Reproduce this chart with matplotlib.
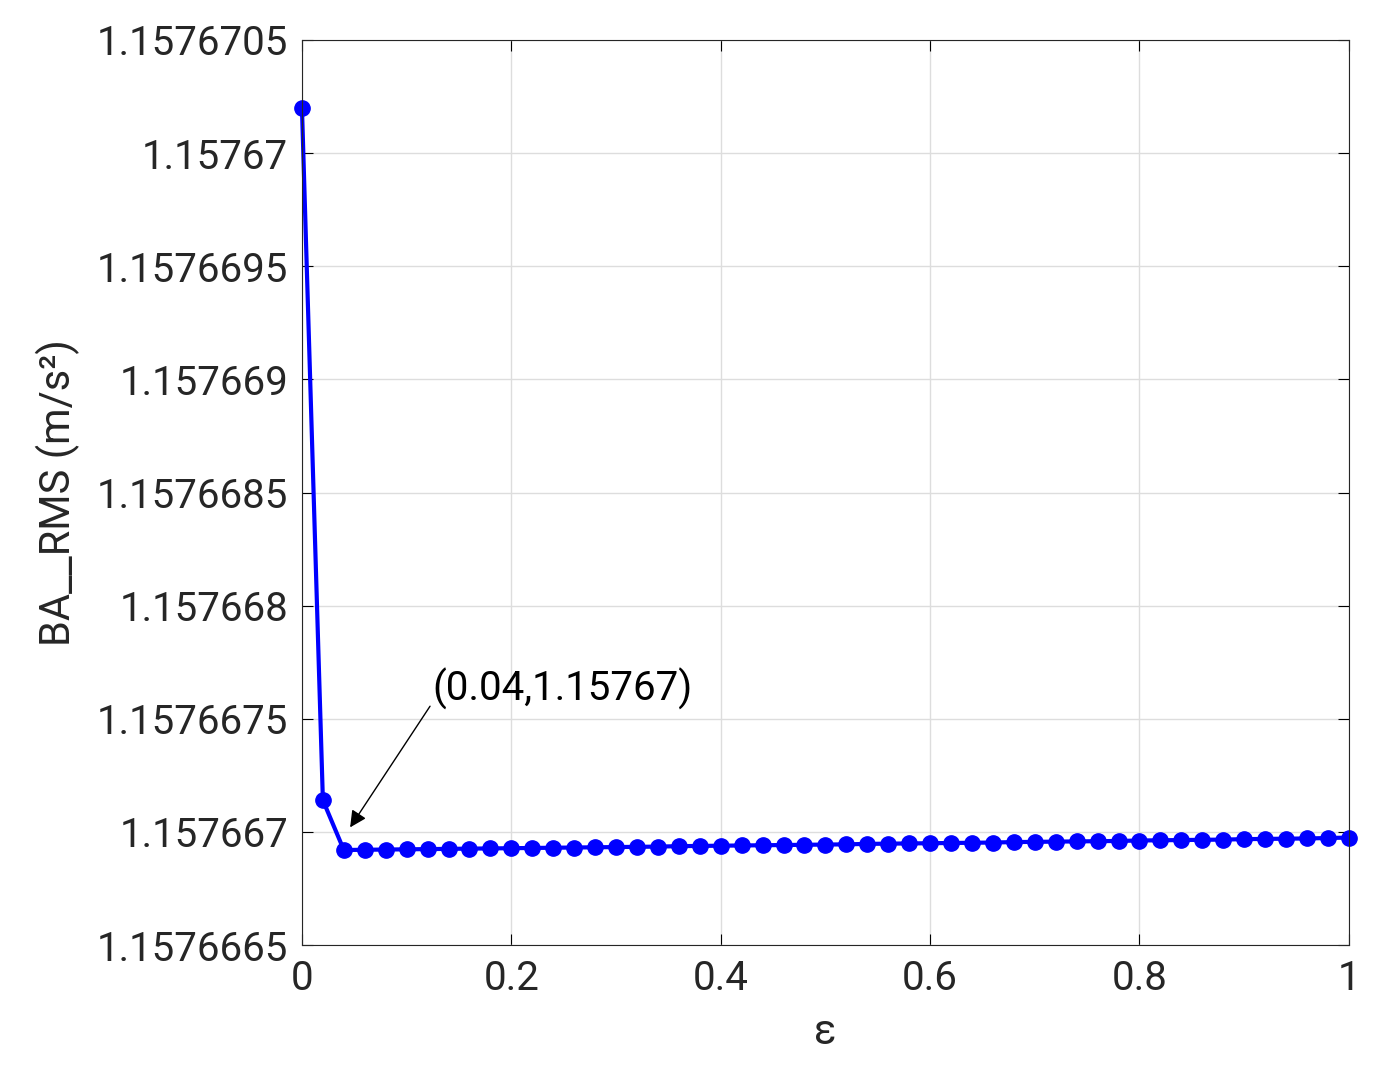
import matplotlib.pyplot as plt
from matplotlib.ticker import FixedLocator, FixedFormatter

plt.rcParams["font.family"] = ["Roboto", "DejaVu Sans"]

eps = [i / 50 for i in range(51)]
# offsets in 1e-9 above 1.1576669 for eps >= 0.04
tail_offsets = [20, 21, 22, 23, 24, 25, 26, 27, 28, 29, 30, 31, 32, 33, 34, 35, 37,
                38, 39, 40, 41, 42, 43, 44, 45, 47, 48, 49, 50, 51, 52, 53, 55, 56,
                57, 58, 59, 60, 62, 63, 64, 65, 66, 68, 69, 70, 71, 73, 75]
rms = [1.15767020, 1.15766714] + [1.1576669 + k * 1e-9 for k in tail_offsets]

yticks = [1.1576665, 1.157667, 1.1576675, 1.157668, 1.1576685,
          1.157669, 1.1576695, 1.15767, 1.1576705]
ytick_labels = ["1.1576665", "1.157667", "1.1576675", "1.157668", "1.1576685",
                "1.157669", "1.1576695", "1.15767", "1.1576705"]

fig = plt.figure(figsize=(13.75, 10.86), dpi=100)
ax = fig.add_axes([0.2196, 0.1298, 0.7614, 0.8334])
ax.plot(eps, rms, color="blue", linewidth=3, marker="o", markersize=11, clip_on=False)
ax.set_xlim(0, 1)
ax.set_ylim(1.1576665, 1.1576705)
ax.yaxis.set_major_locator(FixedLocator(yticks))
ax.yaxis.set_major_formatter(FixedFormatter(ytick_labels))
ax.set_xticks([0, 0.2, 0.4, 0.6, 0.8, 1])
ax.set_xticklabels(["0", "0.2", "0.4", "0.6", "0.8", "1"])
ax.tick_params(direction="in", labelsize=29, labelcolor="#262626", top=True, right=True,
               length=8, pad=10)
ax.grid(True, color="#dddddd", linewidth=1)
for s in ax.spines.values():
    s.set_color("#262626")
ax.set_xlabel("ε", fontsize=30, color="#262626", labelpad=10)
ax.set_ylabel("BA__RMS (m/s²)", fontsize=30, color="#262626", labelpad=12)
ax.annotate("(0.04,1.15767)", xy=(0.046, 1.15766702), xytext=(0.125, 1.15766763),
            fontsize=29, va="center", ha="left",
            arrowprops=dict(arrowstyle="-|>", color="black", lw=1, mutation_scale=25,
                            shrinkA=0, shrinkB=0, relpos=(0, 0.2)))
fig.savefig("out.png", dpi=100)
